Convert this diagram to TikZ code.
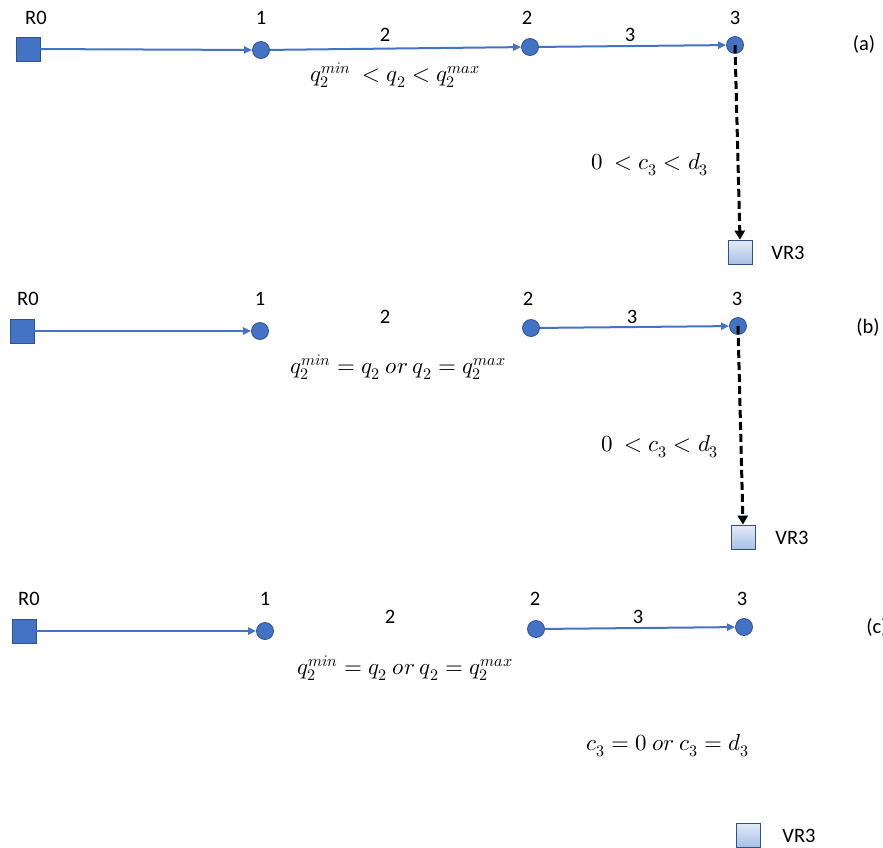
\documentclass[tikz,border=0pt]{standalone}
\usepackage{fontspec}
\usepackage{unicode-math}
\setmainfont{Carlito}
\setmathfont{Latin Modern Math}
\usetikzlibrary{arrows.meta}
\definecolor{nblue}{HTML}{4472C4}
\definecolor{nedge}{HTML}{2F528F}
\definecolor{vtop}{HTML}{E4EBF7}
\definecolor{vbot}{HTML}{A9C0E6}
\begin{document}
\begin{tikzpicture}[x=1pt,y=-1pt,
 lbl/.style={font=\fontsize{20.5}{24}\selectfont, inner sep=0pt},
 mth/.style={font=\fontsize{23}{26}\selectfont, inner sep=0pt},
 src/.style={draw=nedge, fill=nblue, minimum size=24pt, inner sep=0pt, line width=0.8pt},
 vnode/.style={draw=nedge, top color=vtop, bottom color=vbot, minimum size=24pt, inner sep=0pt, line width=0.8pt},
 circ/.style={circle, draw=nedge, fill=nblue, minimum size=17pt, inner sep=0pt, line width=0.8pt},
 link/.style={draw=nblue, line width=2pt, -{Triangle[length=8pt,width=7pt]}},
 dlink/.style={draw=black, line width=3pt, dash pattern=on 8pt off 4pt, -{Triangle[length=9pt,width=10pt]}},
]
\useasboundingbox (0,0) rectangle (883,847);

% ---------- (a) ----------
\node[src]  (a0) at (28,49) {};
\node[circ] (a1) at (261,50) {};
\node[circ] (a2) at (530,47) {};
\node[circ] (a3) at (735,45) {};
\node[vnode] (av) at (740,252) {};
\node[lbl] (a0l) at (36,18) {R0};
\node[lbl] (a1l) at (261,18) {1};
\node[lbl] (a2l) at (527,18) {2};
\node[lbl] (a3l) at (735,18) {3};
\node[lbl] (ae2) at (385,35) {2};
\node[lbl] (ae3) at (630,35) {3};
\node[mth] (aq) at (395,75) {$q_2^{min}\ < q_2 < q_2^{max}$};
\node[mth] (ac) at (650,165) {$0\ < c_3 < d_3$};
\node[lbl] (avl) at (788,253) {VR3};
\node[lbl] (atag) at (864,44) {(a)};
\draw[link] (a0) -- (a1);
\draw[link] (a1) -- (a2);
\draw[link] (a2) -- (a3);
\draw[dlink] (a3.center) -- (av.north);

% ---------- (b) ----------
\node[src]  (b0) at (22,331) {};
\node[circ] (b1) at (260,331) {};
\node[circ] (b2) at (531,328) {};
\node[circ] (b3) at (738,326) {};
\node[vnode] (bv) at (743,537) {};
\node[lbl] (b0l) at (28,299) {R0};
\node[lbl] (b1l) at (260,299) {1};
\node[lbl] (b2l) at (528,299) {2};
\node[lbl] (b3l) at (737,299) {3};
\node[lbl] (be2) at (385,317) {2};
\node[lbl] (be3) at (632,317) {3};
\node[mth] (bq) at (398,367) {$q_2^{min} = q_2\ or\ q_2 = q_2^{max}$};
\node[mth] (bc) at (660,447) {$0\ < c_3 < d_3$};
\node[lbl] (bvl) at (792,538) {VR3};
\node[lbl] (btag) at (868,327) {(b)};
\draw[link] (b0) -- (b1);
\draw[link] (b2) -- (b3);
\draw[dlink] (b3.center) -- (bv.north);

% ---------- (c) ----------
\node[src]  (c0) at (24,631) {};
\node[circ] (c1) at (265,631) {};
\node[circ] (c2) at (536,629) {};
\node[circ] (c3) at (744,627) {};
\node[vnode] (cv) at (748,835) {};
\node[lbl] (c0l) at (29,599) {R0};
\node[lbl] (c1l) at (265,599) {1};
\node[lbl] (c2l) at (535,599) {2};
\node[lbl] (c3l) at (742,599) {3};
\node[lbl] (ce2) at (390,617) {2};
\node[lbl] (ce3) at (638,617) {3};
\node[mth] (cq) at (405,668) {$q_2^{min} = q_2\ or\ q_2 = q_2^{max}$};
\node[mth] (cc) at (668,746) {$c_3 = 0\ or\ c_3 = d_3$};
\node[lbl] (cvl) at (799,836) {VR3};
\node[lbl] (ctag) at (877,627) {(c)};
\draw[link] (c0) -- (c1);
\draw[link] (c2) -- (c3);
\end{tikzpicture}
\end{document}
